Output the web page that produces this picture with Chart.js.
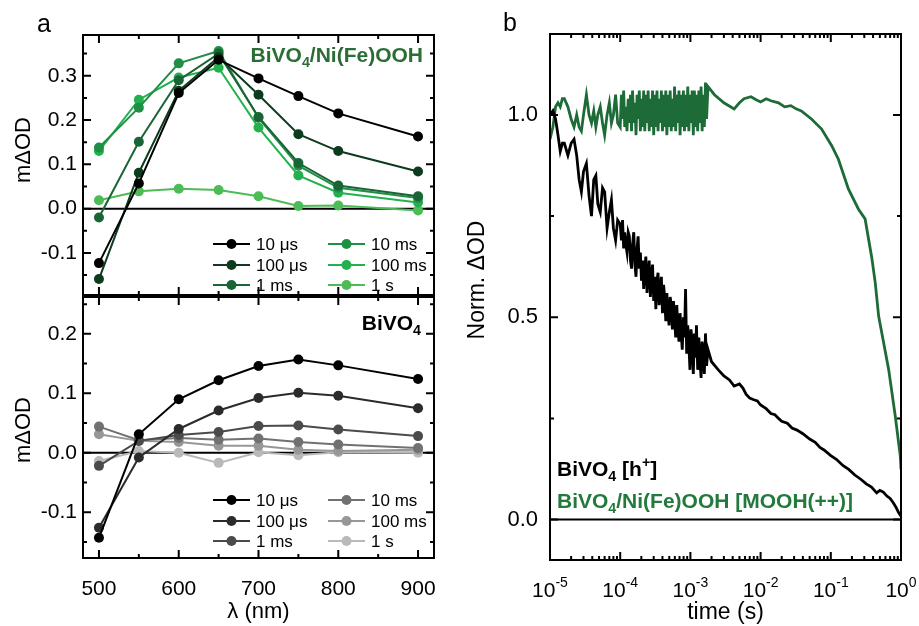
<!DOCTYPE html>
<html>
<head>
<meta charset="utf-8">
<script src="https://cdn.jsdelivr.net/npm/chart.js@4.4.0/dist/chart.umd.min.js"></script>
<style>
  html, body { margin: 0; padding: 0; background: #fff; }
  #wrap { position: relative; width: 919px; height: 626px; overflow: hidden; }
  canvas { position: absolute; }
</style>
</head>
<body>
<div id="wrap">
  <canvas id="specTop" width="460" height="300" style="left:0;top:0"></canvas>
  <canvas id="specBottom" width="460" height="339" style="left:0;top:287px"></canvas>
  <canvas id="kinetics" width="459" height="626" style="left:460px;top:0"></canvas>
</div>
<script>
// --- panel a: spectra ---
const wavelengths = [500, 550, 600, 650, 700, 750, 800, 900];
const delayLabels = ['10 μs', '100 μs', '1 ms', '10 ms', '100 ms', '1 s'];

// BiVO4/Ni(Fe)OOH (mΔOD)
const nife10us  = [-0.123, 0.057, 0.261, 0.336, 0.294, 0.254, 0.215, 0.163];
const nife100us = [-0.159, 0.081, 0.266, 0.342, 0.257, 0.168, 0.130, 0.084];
const nife1ms   = [-0.020, 0.151, 0.290, 0.350, 0.207, 0.103, 0.052, 0.028];
const nife10ms  = [0.138, 0.228, 0.328, 0.356, 0.205, 0.097, 0.047, 0.024];
const nife100ms = [0.130, 0.246, 0.296, 0.318, 0.183, 0.075, 0.036, 0.014];
const nife1s    = [0.019, 0.039, 0.045, 0.042, 0.028, 0.006, 0.007, -0.004];

// BiVO4 (mΔOD)
const bivo10us  = [-0.143, 0.031, 0.090, 0.122, 0.146, 0.157, 0.147, 0.124];
const bivo100us = [-0.126, -0.008, 0.040, 0.071, 0.092, 0.101, 0.096, 0.075];
const bivo1ms   = [-0.022, 0.020, 0.030, 0.035, 0.045, 0.046, 0.039, 0.028];
const bivo10ms  = [0.044, 0.021, 0.025, 0.022, 0.024, 0.018, 0.014, 0.008];
const bivo100ms = [0.031, 0.020, 0.018, 0.012, 0.012, 0.005, 0.003, 0.005];
const bivo1s    = [-0.014, 0.003, 0.000, -0.017, 0.001, -0.004, 0.001, 0.000];

const waveMajorTicks = [500, 600, 700, 800, 900];
const waveMinorTicks = [550, 650, 750, 850];
const topYTicks = [-0.1, 0.0, 0.1, 0.2, 0.3];
const topYMinor = [-0.15, -0.05, 0.05, 0.15, 0.25, 0.35];
const bottomYTicks = [-0.1, 0.0, 0.1, 0.2];
const bottomYMinor = [-0.15, -0.05, 0.05, 0.15, 0.25];

// --- panel b: normalised kinetics ---
// early part, sampled coarsely (s)
const earlyTimes = [
  1.0e-5, 1.1e-5, 1.2e-5, 1.3e-5, 1.4e-5, 1.5e-5, 1.6e-5, 1.8e-5, 2.0e-5, 2.2e-5,
  2.4e-5, 2.6e-5, 2.8e-5, 3.0e-5, 3.3e-5, 3.6e-5, 3.9e-5, 4.2e-5, 4.5e-5, 4.8e-5,
  5.2e-5, 5.6e-5, 6.0e-5, 6.5e-5, 7.0e-5, 7.5e-5, 8.0e-5, 8.6e-5, 9.2e-5
];
const mooEarly = [
  0.94, 0.97, 1.02, 1.03, 1.02, 1.04, 1.04, 1.02, 0.99, 0.97,
  1.00, 0.97, 0.96, 1.00, 1.05, 1.00, 0.98, 1.01, 0.97, 1.00,
  1.02, 0.98, 0.95, 1.00, 1.03, 0.98, 1.00, 1.05, 0.98
];
const holeEarly = [
  1.00, 1.01, 0.99, 0.95, 0.91, 0.93, 0.93, 0.90, 0.93, 0.94,
  0.90, 0.84, 0.81, 0.86, 0.88, 0.80, 0.75, 0.84, 0.85, 0.78,
  0.76, 0.82, 0.81, 0.72, 0.76, 0.79, 0.72, 0.69, 0.74
];
// dense noisy part, 0.1 ms to 1.8 ms (s)
const denseTimes = [
  1.00e-4, 1.04e-4, 1.08e-4, 1.12e-4, 1.16e-4, 1.20e-4, 1.25e-4, 1.30e-4, 1.35e-4, 1.40e-4,
  1.45e-4, 1.50e-4, 1.56e-4, 1.62e-4, 1.68e-4, 1.74e-4, 1.80e-4, 1.87e-4, 1.94e-4, 2.01e-4,
  2.08e-4, 2.16e-4, 2.24e-4, 2.32e-4, 2.41e-4, 2.50e-4, 2.59e-4, 2.69e-4, 2.79e-4, 2.89e-4,
  3.00e-4, 3.11e-4, 3.22e-4, 3.34e-4, 3.46e-4, 3.59e-4, 3.72e-4, 3.86e-4, 4.00e-4, 4.15e-4,
  4.30e-4, 4.46e-4, 4.62e-4, 4.79e-4, 4.97e-4, 5.15e-4, 5.34e-4, 5.54e-4, 5.74e-4, 5.95e-4,
  6.17e-4, 6.40e-4, 6.63e-4, 6.88e-4, 7.13e-4, 7.39e-4, 7.66e-4, 7.94e-4, 8.23e-4, 8.53e-4,
  8.85e-4, 9.17e-4, 9.51e-4, 9.86e-4, 1.02e-3, 1.06e-3, 1.10e-3, 1.14e-3, 1.18e-3, 1.22e-3,
  1.27e-3, 1.32e-3, 1.37e-3, 1.42e-3, 1.47e-3, 1.52e-3, 1.58e-3, 1.64e-3, 1.70e-3, 1.78e-3
];
const mooDense = [
  0.97, 1.05, 0.99, 1.06, 0.97, 1.02, 0.96, 1.04, 0.98, 1.05,
  0.96, 1.06, 0.98, 1.03, 0.95, 1.05, 0.99, 1.06, 0.96, 1.04,
  0.97, 1.06, 0.96, 1.05, 0.98, 1.06, 0.96, 1.04, 0.97, 1.06,
  0.95, 1.05, 0.97, 1.06, 0.96, 1.04, 0.98, 1.06, 0.96, 1.05,
  0.97, 1.06, 0.95, 1.05, 0.97, 1.06, 0.96, 1.04, 0.97, 1.07,
  0.96, 1.05, 0.98, 1.06, 0.95, 1.05, 0.97, 1.06, 0.96, 1.05,
  0.97, 1.07, 0.96, 1.05, 0.98, 1.06, 0.95, 1.06, 0.97, 1.05,
  0.96, 1.06, 0.98, 1.07, 0.96, 1.05, 0.97, 1.08, 0.99, 1.07
];
const holeDense = [
  0.73, 0.69, 0.74, 0.67, 0.71, 0.68, 0.66, 0.71, 0.70, 0.64,
  0.62, 0.68, 0.71, 0.63, 0.60, 0.67, 0.70, 0.62, 0.66, 0.59,
  0.64, 0.57, 0.62, 0.65, 0.56, 0.61, 0.64, 0.55, 0.60, 0.63,
  0.54, 0.60, 0.52, 0.59, 0.61, 0.53, 0.57, 0.60, 0.51, 0.58,
  0.55, 0.49, 0.56, 0.51, 0.48, 0.55, 0.53, 0.47, 0.54, 0.50,
  0.45, 0.53, 0.47, 0.44, 0.51, 0.46, 0.42, 0.50, 0.45, 0.57,
  0.41, 0.48, 0.43, 0.37, 0.47, 0.44, 0.36, 0.46, 0.40, 0.48,
  0.37, 0.45, 0.39, 0.35, 0.44, 0.41, 0.36, 0.46, 0.38, 0.42
];
// smooth tails (s)
const mooTailTimes = [
  2.2e-3, 3.0e-3, 4.2e-3, 5.0e-3, 5.8e-3, 7.3e-3, 8.5e-3, 1.0e-2, 1.2e-2, 1.4e-2,
  1.8e-2, 2.2e-2, 2.7e-2, 3.2e-2, 3.8e-2, 5.3e-2, 7.4e-2, 0.103, 0.128, 0.178,
  0.248, 0.308, 0.385, 0.43, 0.48, 0.667, 0.828, 0.977, 1.0
];
const mooTail = [
  1.05, 1.03, 1.015, 1.03, 1.04, 1.045, 1.038, 1.032, 1.04, 1.035,
  1.03, 1.02, 1.023, 1.015, 1.01, 0.99, 0.965, 0.924, 0.891, 0.817,
  0.767, 0.743, 0.645, 0.585, 0.503, 0.371, 0.256, 0.157, 0.124
];
const holeTailTimes = [
  2.0e-3, 2.5e-3, 3.0e-3, 3.6e-3, 4.2e-3, 5.0e-3, 5.6e-3, 6.2e-3, 7.0e-3, 8.0e-3,
  9.0e-3, 1.0e-2, 1.2e-2, 1.4e-2, 1.6e-2, 1.8e-2, 2.0e-2, 2.4e-2, 2.8e-2, 3.3e-2,
  4.0e-2, 5.0e-2, 6.0e-2, 7.0e-2, 8.0e-2, 0.10, 0.12, 0.15, 0.18, 0.22,
  0.27, 0.32, 0.38, 0.45, 0.50, 0.56, 0.63, 0.70, 0.78, 0.85,
  0.92, 1.0
];
const holeTail = [
  0.39, 0.37, 0.355, 0.345, 0.33, 0.335, 0.325, 0.31, 0.30, 0.296,
  0.293, 0.283, 0.274, 0.262, 0.259, 0.25, 0.243, 0.238, 0.226, 0.221,
  0.212, 0.199, 0.191, 0.178, 0.172, 0.158, 0.149, 0.133, 0.124, 0.11,
  0.099, 0.088, 0.08, 0.066, 0.072, 0.068, 0.058, 0.052, 0.041, 0.03,
  0.018, 0.008
];
const decadeTicks = [1e-5, 1e-4, 1e-3, 1e-2, 1e-1, 1];
const decadeExponents = ['-5', '-4', '-3', '-2', '-1', '0'];
const normYTicks = [0.0, 0.5, 1.0];
const normYMinor = [0.25, 0.75];

const greenShades = ['#000000', '#0d3b1d', '#1a6535', '#1f8f46', '#22b14c', '#4dbb56'];
const greyShades = ['#000000', '#2b2b2b', '#4b4b4b', '#717171', '#979797', '#b9b9b9'];
const FONT = '"Liberation Sans", Arial, Helvetica, sans-serif';

Chart.defaults.font.family = FONT;
Chart.defaults.color = '#000';

function makeSpectra(series, colors) {
  return series.map((vals, i) => ({
    label: delayLabels[i],
    data: vals.map((v, j) => ({ x: wavelengths[j], y: v })),
    borderColor: colors[i],
    backgroundColor: colors[i],
    pointBackgroundColor: colors[i],
    pointBorderColor: colors[i],
    borderWidth: 2,
    pointRadius: 5,
    pointBorderWidth: 0,
    tension: 0
  }));
}

function toPoints(times, vals) {
  return times.map((t, i) => ({ x: t, y: vals[i] }));
}

function fixSize(w, h) {
  return s => {
    if (w !== null) s.width = w;
    if (h !== null) s.height = h;
    s.paddingTop = s.paddingBottom = s.paddingLeft = s.paddingRight = 0;
  };
}

function drawRich(ctx, parts, x, y, size, weight, color, align) {
  const fontFor = s => weight + ' ' + s + 'px ' + FONT;
  let w = 0;
  parts.forEach(([t, m]) => { ctx.font = fontFor(m ? size * 0.68 : size); w += ctx.measureText(t).width; });
  let cx = align === 'right' ? x - w : align === 'center' ? x - w / 2 : x;
  ctx.fillStyle = color;
  ctx.textAlign = 'left';
  ctx.textBaseline = 'alphabetic';
  parts.forEach(([t, m]) => {
    const s = m ? size * 0.68 : size;
    ctx.font = fontFor(s);
    const dy = m === -1 ? size * 0.26 : m === 1 ? -size * 0.42 : 0;
    ctx.fillText(t, cx, y + dy);
    cx += ctx.measureText(t).width;
  });
}

// box, inward ticks on all four sides and the zero line
const frameTicks = {
  id: 'frameTicks',
  beforeDatasetsDraw(chart) {
    const { ctx, chartArea: a, scales: { y } } = chart;
    const y0 = y.getPixelForValue(0);
    ctx.save();
    ctx.strokeStyle = '#000';
    ctx.lineWidth = 2;
    ctx.beginPath();
    ctx.moveTo(a.left, y0);
    ctx.lineTo(a.right, y0);
    ctx.stroke();
    ctx.restore();
  },
  afterDraw(chart, args, opts) {
    const { ctx, chartArea: a, scales: { x, y } } = chart;
    ctx.save();
    ctx.strokeStyle = '#000';
    ctx.lineWidth = 2;
    ctx.beginPath();
    const xMarks = (vals, len) => vals.forEach(v => {
      const px = x.getPixelForValue(v);
      ctx.moveTo(px, a.bottom); ctx.lineTo(px, a.bottom - len);
      ctx.moveTo(px, a.top); ctx.lineTo(px, a.top + len);
    });
    const yMarks = (vals, len) => vals.forEach(v => {
      const py = y.getPixelForValue(v);
      ctx.moveTo(a.left, py); ctx.lineTo(a.left + len, py);
      ctx.moveTo(a.right, py); ctx.lineTo(a.right - len, py);
    });
    xMarks(opts.xMajor, 8);
    xMarks(opts.xMinor, 4);
    yMarks(opts.yMajor, 8);
    yMarks(opts.yMinor, 4);
    ctx.stroke();
    ctx.strokeRect(a.left, a.top, a.right - a.left, a.bottom - a.top);
    ctx.restore();
  }
};

// two-column legend inside the spectra panels
const delayLegend = {
  id: 'delayLegend',
  afterDraw(chart, args, opts) {
    const ctx = chart.ctx;
    chart.data.datasets.forEach((ds, i) => {
      const x0 = opts.cols[Math.floor(i / 3)];
      const y = opts.rows[i % 3];
      ctx.save();
      ctx.strokeStyle = ds.borderColor;
      ctx.lineWidth = 2;
      ctx.beginPath();
      ctx.moveTo(x0, y);
      ctx.lineTo(x0 + 37, y);
      ctx.stroke();
      ctx.fillStyle = ds.borderColor;
      ctx.beginPath();
      ctx.arc(x0 + 18.5, y, 5, 0, 2 * Math.PI);
      ctx.fill();
      ctx.font = '17px ' + FONT;
      ctx.fillStyle = '#000';
      ctx.textBaseline = 'middle';
      ctx.fillText(ds.label, x0 + 43, y + 1);
      ctx.restore();
    });
  }
};

// free text: panel letters, sample names, y titles
const textMarks = {
  id: 'textMarks',
  afterDraw(chart, args, opts) {
    const ctx = chart.ctx;
    (opts.items || []).forEach(it => {
      ctx.save();
      if (it.rotate) {
        ctx.translate(it.x, it.y);
        ctx.rotate(-Math.PI / 2);
        drawRich(ctx, it.parts, 0, it.size * 0.36, it.size, it.weight || 'normal', it.color || '#000', 'center');
      } else {
        drawRich(ctx, it.parts, it.x, it.y, it.size, it.weight || 'normal', it.color || '#000', it.align || 'left');
      }
      ctx.restore();
    });
  }
};

// 10^n labels under the log axis
const decadeLabels = {
  id: 'decadeLabels',
  afterDraw(chart, args, opts) {
    const ctx = chart.ctx;
    const x = chart.scales.x;
    ctx.save();
    decadeTicks.forEach((t, i) => {
      const px = x.getPixelForValue(t);
      ctx.font = '21px ' + FONT;
      const wBase = ctx.measureText('10').width;
      ctx.font = '14px ' + FONT;
      const wExp = ctx.measureText(decadeExponents[i]).width;
      const left = px - (wBase + wExp) / 2;
      ctx.fillStyle = '#000';
      ctx.textBaseline = 'alphabetic';
      ctx.font = '21px ' + FONT;
      ctx.fillText('10', left, opts.baseline);
      ctx.font = '14px ' + FONT;
      ctx.fillText(decadeExponents[i], left + wBase, opts.baseline - 10);
    });
    ctx.restore();
  }
};

const hiddenGrid = { display: false, drawTicks: false };

// top spectra: BiVO4/Ni(Fe)OOH
new Chart(document.getElementById('specTop'), {
  type: 'line',
  data: { datasets: makeSpectra([nife10us, nife100us, nife1ms, nife10ms, nife100ms, nife1s], greenShades) },
  options: {
    responsive: false,
    animation: false,
    events: [],
    layout: { padding: { top: 35, right: 26, bottom: 3, left: 0 } },
    scales: {
      x: {
        type: 'linear', min: 480, max: 920, display: false
      },
      y: {
        min: -0.195, max: 0.392,
        afterBuildTicks: s => { s.ticks = topYTicks.map(v => ({ value: v })); },
        ticks: { font: { size: 21 }, padding: 6, callback: v => v.toFixed(1) },
        grid: hiddenGrid, border: { display: false },
        afterFit: fixSize(83, null)
      }
    },
    plugins: {
      legend: { display: false },
      tooltip: { enabled: false },
      frameTicks: { xMajor: waveMajorTicks, xMinor: waveMinorTicks, yMajor: topYTicks, yMinor: topYMinor },
      delayLegend: { cols: [213, 328], rows: [244, 265, 285] },
      textMarks: {
        items: [
          { parts: [['a', 0]], x: 37, y: 32, size: 25 },
          { parts: [['BiVO', 0], ['4', -1], ['/Ni(Fe)OOH', 0]], x: 423, y: 62, size: 21, weight: 'bold', color: '#2a6e35', align: 'right' },
          { parts: [['mΔOD', 0]], x: 22.5, y: 150, size: 22, rotate: true }
        ]
      }
    }
  },
  plugins: [frameTicks, delayLegend, textMarks]
});

// bottom spectra: BiVO4
new Chart(document.getElementById('specBottom'), {
  type: 'line',
  data: { datasets: makeSpectra([bivo10us, bivo100us, bivo1ms, bivo10ms, bivo100ms, bivo1s], greyShades) },
  options: {
    responsive: false,
    animation: false,
    events: [],
    layout: { padding: { top: 10, right: 26, bottom: 0, left: 0 } },
    scales: {
      x: {
        type: 'linear', min: 480, max: 920,
        afterBuildTicks: s => { s.ticks = waveMajorTicks.map(v => ({ value: v })); },
        ticks: { font: { size: 21 }, padding: 19, maxRotation: 0 },
        title: { display: true, text: 'λ (nm)', font: { size: 22 }, padding: { top: 0, bottom: 1 } },
        grid: hiddenGrid, border: { display: false },
        afterFit: fixSize(null, 68)
      },
      y: {
        min: -0.177, max: 0.262,
        afterBuildTicks: s => { s.ticks = bottomYTicks.map(v => ({ value: v })); },
        ticks: { font: { size: 21 }, padding: 6, callback: v => v.toFixed(1) },
        grid: hiddenGrid, border: { display: false },
        afterFit: fixSize(83, null)
      }
    },
    plugins: {
      legend: { display: false },
      tooltip: { enabled: false },
      frameTicks: { xMajor: waveMajorTicks, xMinor: waveMinorTicks, yMajor: bottomYTicks, yMinor: bottomYMinor },
      delayLegend: { cols: [213, 328], rows: [213, 234, 254] },
      textMarks: {
        items: [
          { parts: [['BiVO', 0], ['4', -1]], x: 421, y: 43, size: 21, weight: 'bold', align: 'right' },
          { parts: [['mΔOD', 0]], x: 22.5, y: 143, size: 22, rotate: true }
        ]
      }
    }
  },
  plugins: [frameTicks, delayLegend, textMarks]
});

// panel b: normalised decays
const mooPoints = toPoints(earlyTimes, mooEarly)
  .concat(toPoints(denseTimes, mooDense), toPoints(mooTailTimes, mooTail));
const holePoints = toPoints(earlyTimes, holeEarly)
  .concat(toPoints(denseTimes, holeDense), toPoints(holeTailTimes, holeTail));
const decadeMinor = decadeTicks.slice(0, -1).flatMap(d => [2, 3, 4, 5, 6, 7, 8, 9].map(f => f * d));

new Chart(document.getElementById('kinetics'), {
  type: 'line',
  data: {
    datasets: [
      { label: 'BiVO4 [h+]', data: holePoints, borderColor: '#000000', borderWidth: 2.8, pointRadius: 0, tension: 0 },
      { label: 'BiVO4/Ni(Fe)OOH [MOOH(++)]', data: mooPoints, borderColor: '#1d6b36', borderWidth: 2.8, pointRadius: 0, tension: 0 }
    ]
  },
  options: {
    responsive: false,
    animation: false,
    events: [],
    layout: { padding: { top: 34, right: 18, bottom: 0, left: 0 } },
    scales: {
      x: {
        type: 'logarithmic', min: 1e-5, max: 1,
        ticks: { display: false },
        title: { display: true, text: 'time (s)', font: { size: 23 }, padding: { top: 0, bottom: 0 } },
        grid: hiddenGrid, border: { display: false },
        afterFit: fixSize(null, 66)
      },
      y: {
        min: -0.1, max: 1.2,
        afterBuildTicks: s => { s.ticks = normYTicks.map(v => ({ value: v })); },
        ticks: { font: { size: 22 }, padding: 12, callback: v => v.toFixed(1) },
        grid: hiddenGrid, border: { display: false },
        afterFit: fixSize(90, null)
      }
    },
    plugins: {
      legend: { display: false },
      tooltip: { enabled: false },
      frameTicks: { xMajor: decadeTicks, xMinor: decadeMinor, yMajor: normYTicks, yMinor: normYMinor },
      decadeLabels: { baseline: 597 },
      textMarks: {
        items: [
          { parts: [['b', 0]], x: 43, y: 31, size: 25 },
          { parts: [['Norm. ΔOD', 0]], x: 16, y: 280, size: 23, rotate: true },
          { parts: [['BiVO', 0], ['4', -1], [' [h', 0], ['+', 1], [']', 0]], x: 97, y: 476, size: 21, weight: 'bold' },
          { parts: [['BiVO', 0], ['4', -1], ['/Ni(Fe)OOH [MOOH(++)]', 0]], x: 97, y: 508, size: 21, weight: 'bold', color: '#237a3d' }
        ]
      }
    }
  },
  plugins: [frameTicks, decadeLabels, textMarks]
});
</script>
</body>
</html>
